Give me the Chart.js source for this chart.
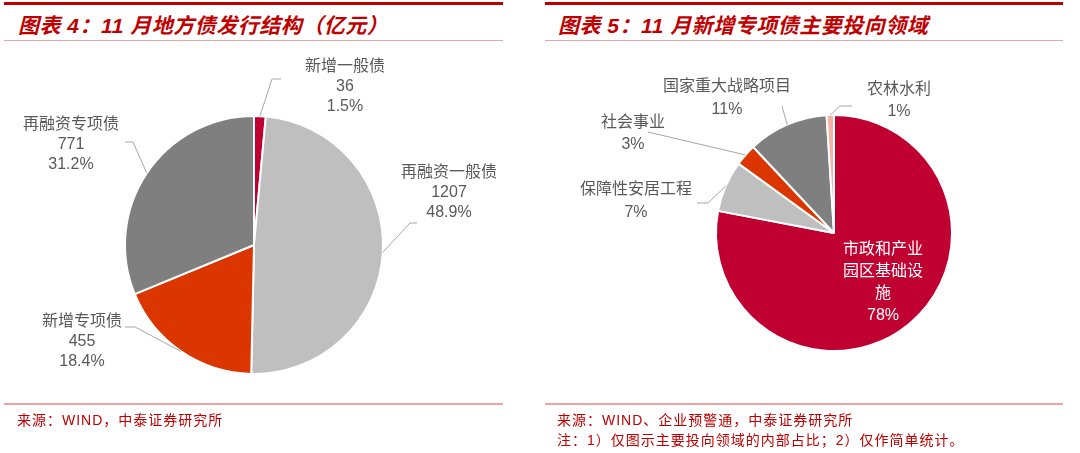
<!DOCTYPE html>
<html>
<head>
<meta charset="utf-8">
<script src="https://cdn.jsdelivr.net/npm/chart.js@4.4.0/dist/chart.umd.min.js"></script>
<style>
  body { margin: 0; background: #fff; width: 1080px; height: 453px; overflow: hidden; position: relative;
         font-family: "Liberation Sans", "Noto Sans CJK SC", sans-serif; }
  .panel { position: absolute; top: 0; width: 540px; height: 453px; }
  .topline { position: absolute; top: 2px; height: 3px; background: #C00000; }
  .title { position: absolute; top: 9px; font-size: 21px; font-weight: bold; font-style: italic; color: #C00000;
           white-space: nowrap; letter-spacing: 0.5px; }
  .subline { position: absolute; top: 40px; height: 1px; background: #E8A7A7; }
  .botline { position: absolute; top: 403px; height: 2px; background: #EBA3A3; }
  .src { position: absolute; left: 17px; font-size: 14px; color: #C00000; letter-spacing: 1px; white-space: nowrap; }
  canvas { position: absolute; left: 0; top: 0; }
</style>
</head>
<body>
<div class="panel" style="left:0">
  <div class="topline" style="left:4px;width:499px"></div>
  <div class="title" style="left:18px">图表 4：11 月地方债发行结构（亿元）</div>
  <div class="subline" style="left:4px;width:499px"></div>
  <canvas id="leftPie" width="540" height="453"></canvas>
  <div class="botline" style="left:4px;width:499px"></div>
  <div class="src" style="top:409px">来源：WIND，中泰证券研究所</div>
</div>
<div class="panel" style="left:540px">
  <div class="topline" style="left:5px;width:518px"></div>
  <div class="title" style="left:18px">图表 5：11 月新增专项债主要投向领域</div>
  <div class="subline" style="left:5px;width:518px"></div>
  <canvas id="rightPie" width="540" height="453"></canvas>
  <div class="botline" style="left:5px;width:518px"></div>
  <div class="src" style="top:409px">来源：WIND、企业预警通，中泰证券研究所</div>
  <div class="src" style="top:429px">注：1）仅图示主要投向领域的内部占比；2）仅作简单统计。</div>
</div>

<script>
// 图表4 地方债发行结构（亿元）
const bondTypes = ['新增一般债', '再融资一般债', '新增专项债', '再融资专项债'];
const bondAmounts = [36, 1207, 455, 771];
const bondColors = ['#C00030', '#BFBFBF', '#DB3500', '#7F7F7F'];

// 图表5 新增专项债投向 (%)
const useAreas = ['市政和产业园区基础设施', '保障性安居工程', '社会事业', '国家重大战略项目', '农林水利'];
const useShares = [78, 7, 3, 11, 1];
const useColors = ['#BF0030', '#BFBFBF', '#DB3500', '#7F7F7F', '#F4B4A4'];

const bondTotal = bondAmounts.reduce((a, b) => a + b, 0);

// label placement: text anchor + leader elbow points (canvas coords)
const leftLayout = [
  { x: 345, y: 67, gap: 20, path: [[272, 79], [281, 79]] },
  { x: 449, y: 173, gap: 20, path: [[410, 223], [417, 223]] },
  { x: 82, y: 322, gap: 20, path: [[135, 327], [125, 327]] },
  { x: 71, y: 125, gap: 20, path: [[133, 142], [125, 142]] }
];
const rightLayout = [
  { x: 343, y: 250, gap: 22, inside: true, wrap: 5 },
  { x: 96, y: 190, gap: 23, path: [[168, 203], [157, 203]] },
  { x: 93, y: 123, gap: 22, path: [[108, 132]] },
  { x: 187, y: 87, gap: 23, path: [[242, 106]] },
  { x: 359, y: 90, gap: 22, path: [[300, 106], [312, 106]] }
];

function wrapText(s, n) {
  const out = [];
  for (let i = 0; i < s.length; i += n) out.push(s.slice(i, i + n));
  return out;
}

const leaderPlugin = {
  id: 'leaders',
  afterDatasetsDraw(chart, args, opts) {
    const ctx = chart.ctx;
    const arcs = chart.getDatasetMeta(0).data;
    ctx.save();
    arcs.forEach((arc, i) => {
      const L = opts.layout[i];
      const p = arc.getProps(['x', 'y', 'startAngle', 'endAngle', 'outerRadius'], true);
      const mid = (p.startAngle + p.endAngle) / 2;
      if (!L.inside) {
        ctx.strokeStyle = '#A6A6A6';
        ctx.lineWidth = 1;
        ctx.beginPath();
        ctx.moveTo(p.x + Math.cos(mid) * p.outerRadius, p.y + Math.sin(mid) * p.outerRadius);
        L.path.forEach(pt => ctx.lineTo(pt[0], pt[1]));
        ctx.stroke();
      }
      ctx.fillStyle = L.inside ? '#FFFFFF' : '#595959';
      ctx.font = '16px "Liberation Sans", "Noto Sans CJK SC"';
      ctx.textAlign = 'center';
      ctx.textBaseline = 'middle';
      opts.text(i, L).forEach((t, k) => ctx.fillText(t, L.x, L.y + k * L.gap));
    });
    ctx.restore();
  }
};

function pieConfig(labels, values, colors, padding, layout, text) {
  return {
    type: 'pie',
    data: {
      labels: labels,
      datasets: [{ data: values, backgroundColor: colors, borderColor: '#FFFFFF', borderWidth: 2 }]
    },
    options: {
      responsive: false,
      animation: false,
      layout: { padding: padding },
      plugins: {
        legend: { display: false },
        tooltip: { enabled: false },
        leaders: { layout: layout, text: text }
      }
    },
    plugins: [leaderPlugin]
  };
}

new Chart(document.getElementById('leftPie'), pieConfig(
  bondTypes, bondAmounts, bondColors,
  { left: 124, top: 115, right: 156, bottom: 78 },
  leftLayout,
  (i) => [bondTypes[i], String(bondAmounts[i]), (bondAmounts[i] / bondTotal * 100).toFixed(1) + '%']
));

new Chart(document.getElementById('rightPie'), pieConfig(
  useAreas, useShares, useColors,
  { left: 175, top: 114, right: 127, bottom: 101 },
  rightLayout,
  (i, L) => (L.wrap ? wrapText(useAreas[i], L.wrap) : [useAreas[i]]).concat(useShares[i] + '%')
));
</script>
</body>
</html>
